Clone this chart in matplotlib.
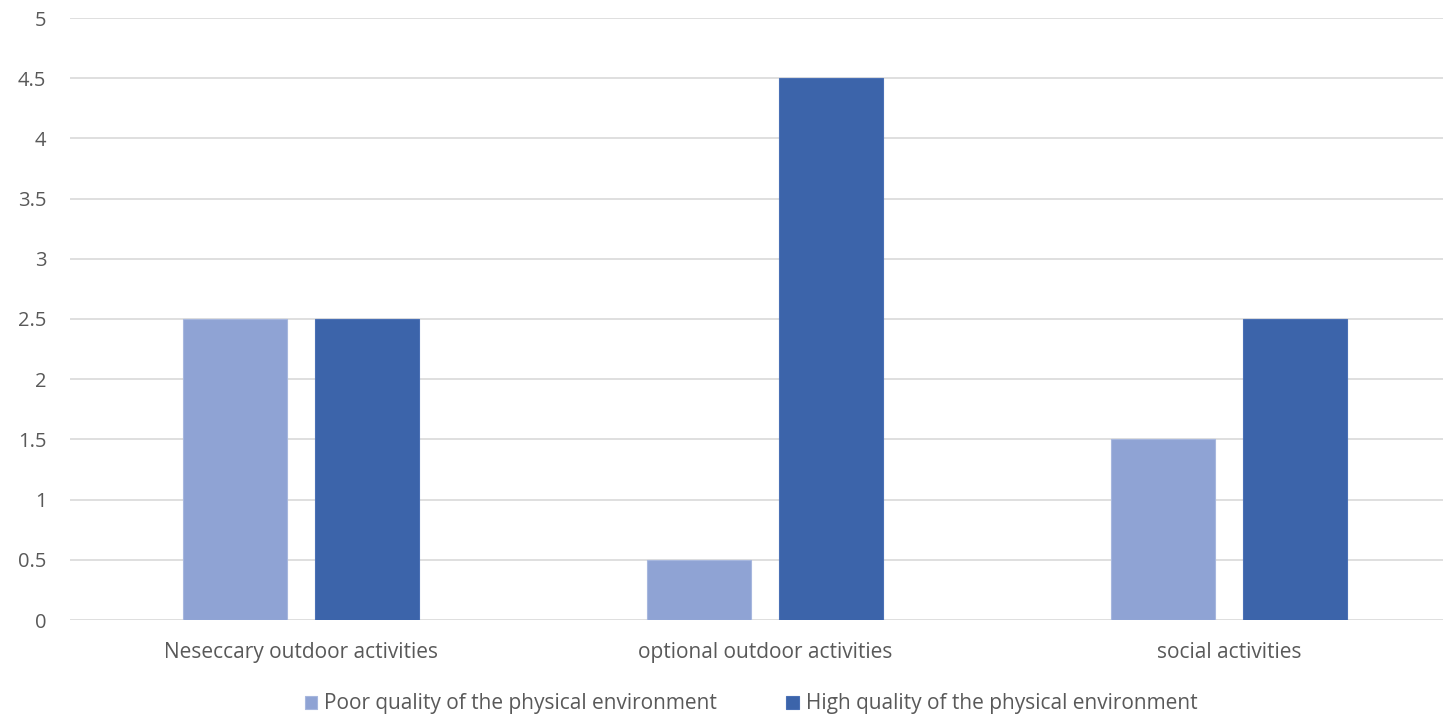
import numpy as np
import matplotlib.pyplot as plt

categories = ["Neseccary outdoor activities", "optional outdoor activities", "social activities"]
poor = [2.5, 0.5, 1.5]
high = [2.5, 4.5, 2.5]
series_names = ["Poor quality of the physical environment", "High quality of the physical environment"]
y_ticks = [0, 0.5, 1, 1.5, 2, 2.5, 3, 3.5, 4, 4.5, 5]

plt.rcParams["font.family"] = ["Open Sans", "DejaVu Sans"]

fig = plt.figure(figsize=(14.43, 7.17), dpi=100)
ax = fig.add_axes([70 / 1443, 97 / 717, 1373 / 1443, 602 / 717])

x = np.arange(len(categories))
w = 0.224
off = 0.142
ax.bar(x - off, poor, w, color="#8FA3D4", edgecolor="#A7B7DE", linewidth=0.8,
       label=series_names[0], zorder=3)
ax.bar(x + off, high, w, color="#3C64AA", edgecolor="#4A70B5", linewidth=0.8,
       label=series_names[1], zorder=3)

ax.set_xlim(-0.498, 2.461)
ax.set_ylim(0, 5)
ax.set_yticks(y_ticks)
ax.set_yticklabels([f"{t:g}" for t in y_ticks])
ax.set_xticks(x)
ax.set_xticklabels(categories)
ax.grid(axis="y", color="#D9D9D9", linewidth=1.2, zorder=0)
for s in ax.spines.values():
    s.set_visible(False)
ax.tick_params(axis="both", length=0, colors="#595959", labelsize=15)
ax.tick_params(axis="y", labelsize=14.5, pad=17)
ax.tick_params(axis="x", pad=16)

leg = fig.legend(loc="center", bbox_to_anchor=(751 / 1443, 1 - 704 / 717), ncol=2,
                 frameon=False, fontsize=15, handlelength=0.6, handleheight=0.6,
                 handletextpad=0.35, columnspacing=3.3)
for t in leg.get_texts():
    t.set_color("#595959")

fig.savefig("out.png", dpi=100)
